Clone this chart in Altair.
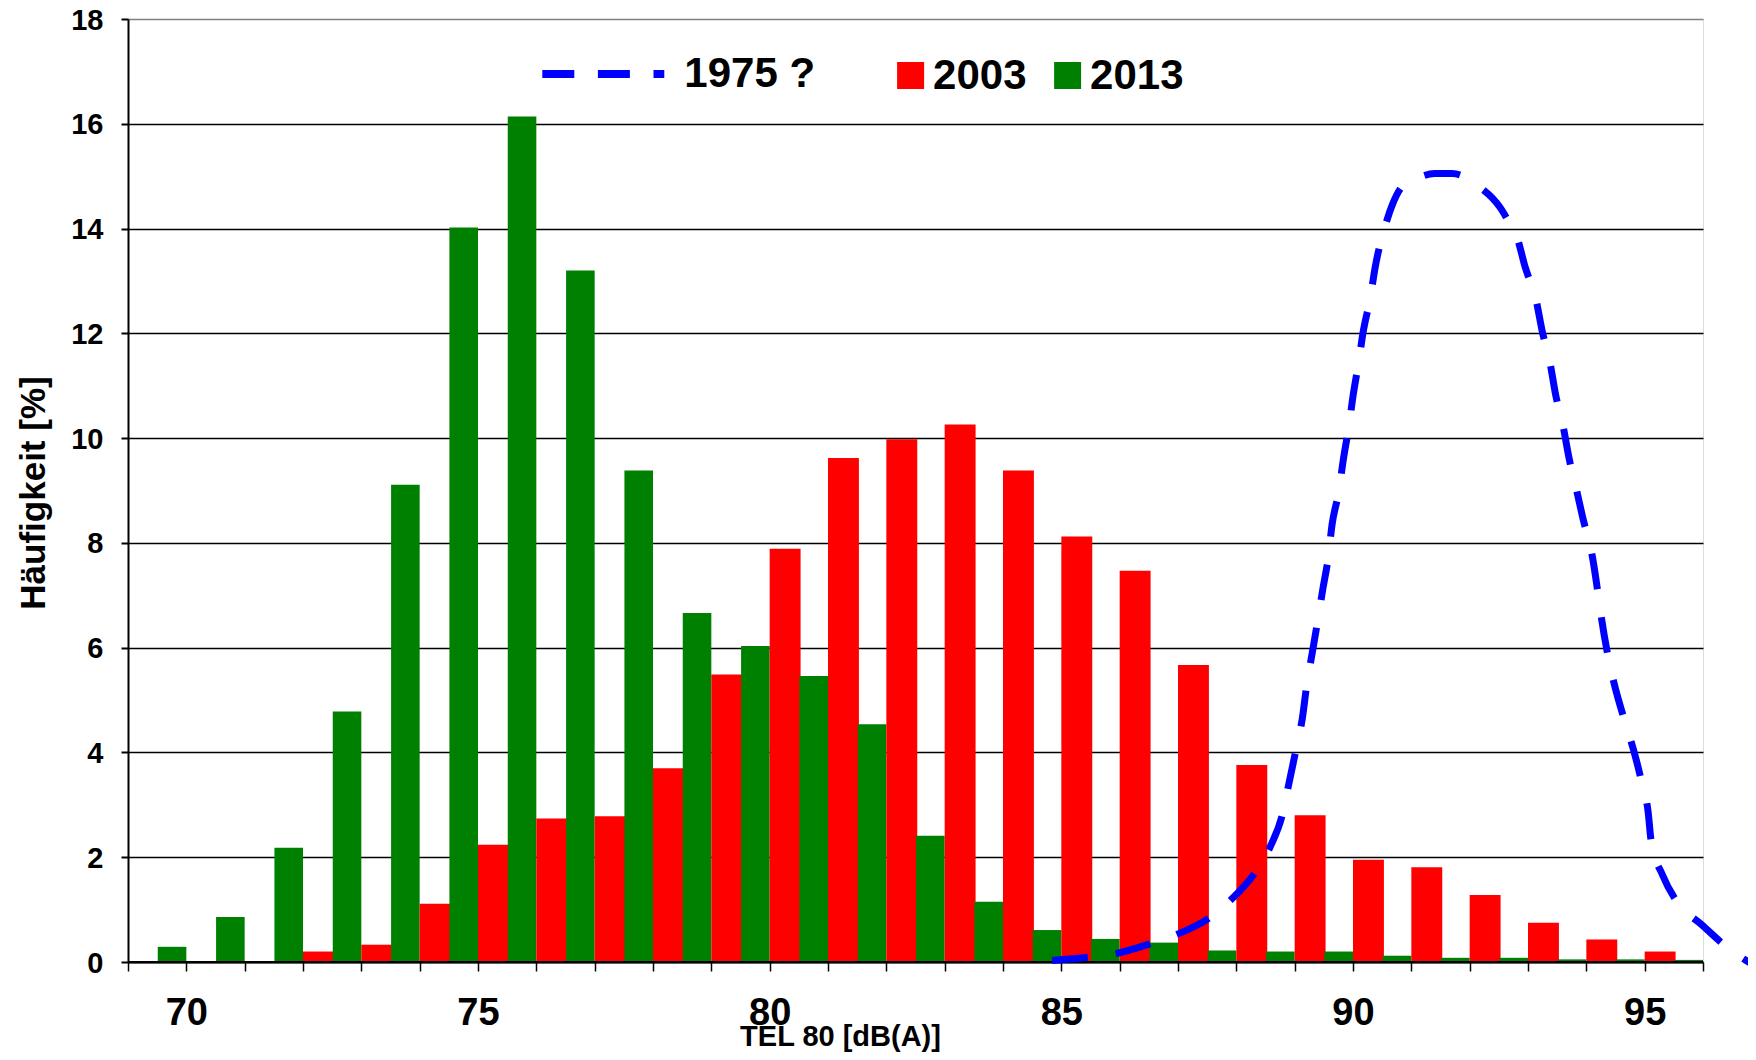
import altair as alt
import pandas as pd

# category cells: each value N covers the interval [N-1, N] on the dB axis
bins = list(range(70, 97))
v2003 = [0, 0, 0, 0.20, 0.33, 1.11, 2.24, 2.74, 2.78, 3.70, 5.49, 7.89, 9.62, 9.98,
         10.26, 9.38, 8.12, 7.47, 5.67, 3.76, 2.80, 1.95, 1.81, 1.28, 0.75, 0.43, 0.20]
v2013 = [0.29, 0.86, 2.18, 4.78, 9.11, 14.02, 16.14, 13.20, 9.38, 6.66, 6.03, 5.46, 4.54,
         2.41, 1.15, 0.61, 0.44, 0.37, 0.22, 0.20, 0.20, 0.12, 0.08, 0.08, 0.05, 0.05, 0.04]

# 1975 curve
x1975 = [84.84, 85.45, 85.93, 86.53, 86.99, 87.56, 87.93, 88.33, 88.59, 88.80, 88.90, 89.03,
         89.13, 89.21, 89.30, 89.40, 89.48, 89.58, 89.64, 89.76, 89.83, 89.93, 90.00, 90.10,
         90.17, 90.30, 90.38, 90.53, 90.68, 90.84, 91.10, 91.40, 91.70, 92.15, 92.53, 92.67,
         92.81, 92.95, 93.14, 93.24, 93.38, 93.47, 93.61, 93.70, 93.84, 93.95, 94.04, 94.10,
         94.18, 94.24, 94.94, 95.06, 95.11, 95.31, 95.54, 95.99, 96.37, 96.88]
y1975 = [0.03, 0.09, 0.16, 0.35, 0.53, 0.86, 1.21, 1.72, 2.22, 2.86, 3.40, 4.09,
         4.64, 5.31, 5.89, 6.55, 7.10, 7.76, 8.34, 9.00, 9.56, 10.23, 10.80, 11.47,
         12.00, 12.70, 13.26, 13.96, 14.47, 14.80, 14.96, 15.05, 15.05, 14.81, 14.39, 14.13,
         13.84, 13.27, 12.63, 12.06, 11.42, 10.85, 10.18, 9.64, 8.97, 8.43, 8.05, 7.76,
         7.19, 6.71, 3.47, 2.86, 2.32, 1.65, 1.17, 0.70, 0.32, -0.07]

x_ticks = list(range(69, 97))
y_ticks = list(range(0, 19, 2))
series_bars = ["2003", "2013"]
series_line = ["1975 ?"]
colors_bars = ["#FF0000", "#008000"]
color_line = ["#0000FF"]

FONT = "Liberation Sans"

rows = []
for b, r, g in zip(bins, v2003, v2013):
    if r > 0:
        rows.append({"series": "2003", "x0": b - 1, "x1": b - 0.47, "v": r, "base": 0})
    if g > 0:
        rows.append({"series": "2013", "x0": b - 0.49, "x1": b, "v": g, "base": 0})
bars_df = pd.DataFrame(rows)
line_df = pd.DataFrame({"x": x1975, "y": y1975, "series": series_line * len(x1975)})
zero_df = pd.DataFrame({"y": [0]})

xscale = alt.Scale(domain=[69, 96], nice=False, zero=False)
yscale = alt.Scale(domain=[0, 18], nice=False)

x_axis = alt.Axis(
    values=x_ticks, format="d",
    labelExpr="datum.value % 5 == 0 ? datum.label : ''",
    tickSize=9, tickWidth=1.5, tickColor="black",
    domainColor="black", domainWidth=2,
    labelFont=FONT, labelFontSize=38, labelFontWeight="bold", labelColor="black",
    labelPadding=23, labelFlush=False, labelOverlap=False, grid=False,
    title="TEL 80 [dB(A)]", titleFont=FONT, titleFontSize=29, titleFontWeight="bold",
    titleColor="black", titleX=712, titleY=83, titleBaseline="alphabetic", titleAlign="center",
)
y_axis = alt.Axis(
    values=y_ticks, format="d",
    tickSize=7, tickWidth=2, tickColor="black",
    domainColor="black", domainWidth=2,
    labelFont=FONT, labelFontSize=29, labelFontWeight="bold", labelColor="black",
    labelPadding=18, labelOffset=1, labelOverlap=False,
    grid=True, gridWidth=1.5,
    gridColor=alt.condition("datum.value == 18", alt.value("#808080"), alt.value("black")),
    title="Häufigkeit [%]", titleFont=FONT, titleFontSize=35, titleFontWeight="bold",
    titleColor="black", titleAngle=270, titleX=-84, titleY=473.5,
    titleBaseline="alphabetic", titleAlign="center",
)

bars = alt.Chart(bars_df).mark_rect(opacity=1).encode(
    x=alt.X("x0:Q", scale=xscale, axis=x_axis),
    x2="x1:Q",
    y=alt.Y("v:Q", scale=yscale, axis=y_axis),
    y2="base:Q",
    fill=alt.Fill(
        "series:N",
        scale=alt.Scale(domain=series_bars, range=colors_bars),
        legend=alt.Legend(
            orient="none", legendX=761.6, legendY=35.5, direction="horizontal",
            title=None, symbolType="square", symbolSize=729, symbolStrokeWidth=0,
            symbolOpacity=1, labelFont=FONT, labelFontSize=42, labelFontWeight="bold",
            labelColor="black", labelOffset=1.5, columnPadding=20, padding=0, labelLimit=400,
        ),
    ),
)

zero_rule = alt.Chart(zero_df).mark_rule(color="black", strokeWidth=2).encode(
    y=alt.Y("y:Q", scale=yscale, axis=y_axis)
)

curve = alt.Chart(line_df).mark_line(
    strokeWidth=7, strokeDash=[36, 28], interpolate="monotone", strokeCap="butt"
).encode(
    x=alt.X("x:Q", scale=xscale, axis=x_axis),
    y=alt.Y("y:Q", scale=yscale, axis=y_axis),
    stroke=alt.Stroke(
        "series:N",
        scale=alt.Scale(domain=series_line, range=color_line),
        legend=alt.Legend(
            orient="none", legendX=410.3, legendY=-10, title=None,
            symbolType="stroke", symbolSize=14884, symbolStrokeWidth=8,
            symbolDash=[32, 23.6], labelFont=FONT, labelFontSize=42,
            labelFontWeight="bold", labelColor="black", labelOffset=16,
            padding=0, labelLimit=400,
        ),
    ),
)

chart = alt.layer(bars, zero_rule, curve).properties(
    width=1575,
    height=943,
    autosize=alt.AutoSizeParams(type="none"),
    padding={"left": 120, "top": 11, "right": 45, "bottom": 90},
    background="white",
).configure_view(stroke="#808080", strokeWidth=2).configure(font=FONT)

chart.save("out.html", embed_options={"renderer": "svg", "actions": False})
